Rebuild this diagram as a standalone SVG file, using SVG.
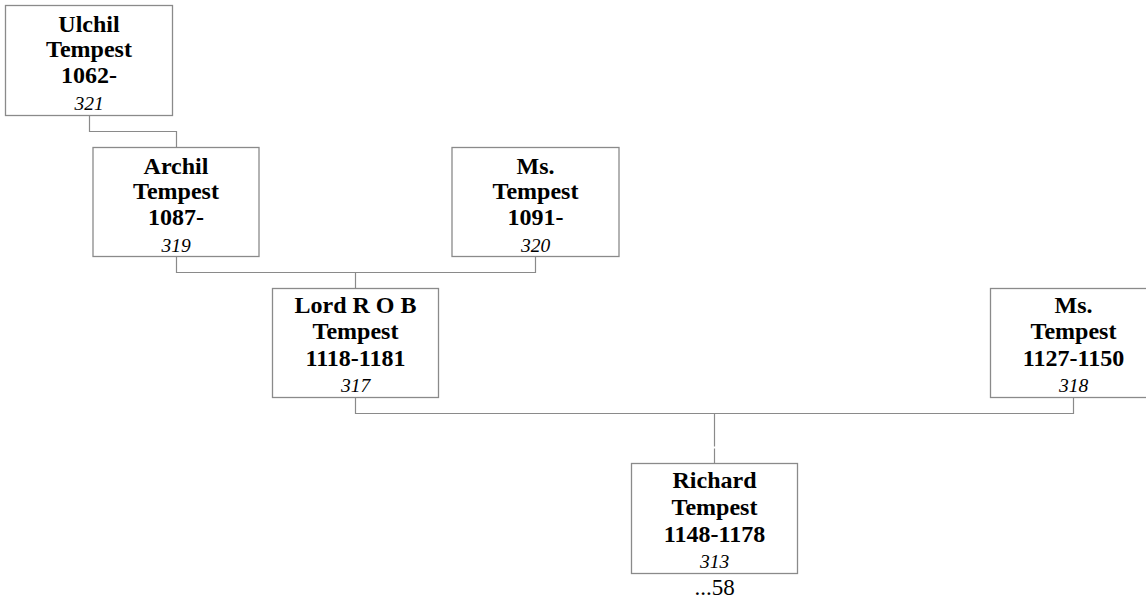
<svg xmlns="http://www.w3.org/2000/svg" width="1146" height="604" viewBox="0 0 1146 604">
<style>
.box{fill:#fff;stroke:#8a8a8a;stroke-width:1.3}
.ln{fill:none;stroke:#8a8a8a;stroke-width:1.2}
.n{font-family:"Liberation Serif","Times New Roman",serif;font-weight:bold;font-size:24px;fill:#000;text-anchor:middle}
.id{font-family:"Liberation Serif","Times New Roman",serif;font-style:italic;font-size:19.5px;fill:#000;text-anchor:middle}
.ft{font-family:"Liberation Serif","Times New Roman",serif;font-size:23px;fill:#000;text-anchor:middle}
</style>
<rect width="1146" height="604" fill="#fff"/>
<g id="connectors">
<path class="ln" d="M89.5 115.5 V131.5 H176.5 V147.5"/>
<path class="ln" d="M176.5 256.5 V272.5 H535.5 V256.5"/>
<path class="ln" d="M355.5 272.5 V288.5"/>
<path class="ln" d="M355.5 397.5 V413.5 H1073.5 V397.5"/>
<path class="ln" d="M714.5 413.5 V446.5"/>
<path class="ln" d="M714.5 448.5 V463.5"/>
</g>
<g id="n321">
<rect class="box" x="5.5" y="5.5" width="167" height="110"/>
<text class="n" x="89" y="31.5">Ulchil</text>
<text class="n" x="89" y="57">Tempest</text>
<text class="n" x="89" y="83">1062-</text>
<text class="id" x="89" y="110">321</text>
</g>
<g id="n319">
<rect class="box" x="93" y="147.5" width="166" height="109"/>
<text class="n" x="176" y="173.5">Archil</text>
<text class="n" x="176" y="199">Tempest</text>
<text class="n" x="176" y="225">1087-</text>
<text class="id" x="176" y="252">319</text>
</g>
<g id="n320">
<rect class="box" x="452" y="147.5" width="167" height="109"/>
<text class="n" x="535.5" y="173.5">Ms.</text>
<text class="n" x="535.5" y="199">Tempest</text>
<text class="n" x="535.5" y="225">1091-</text>
<text class="id" x="535.5" y="252">320</text>
</g>
<g id="n317">
<rect class="box" x="272.5" y="288.5" width="166" height="109"/>
<text class="n" x="355.5" y="313">Lord R O B</text>
<text class="n" x="355.5" y="339">Tempest</text>
<text class="n" x="355.5" y="365.5">1118-1181</text>
<text class="id" x="355.5" y="392">317</text>
</g>
<g id="n318">
<rect class="box" x="990.5" y="288.5" width="167" height="109"/>
<text class="n" x="1073.5" y="313">Ms.</text>
<text class="n" x="1073.5" y="339">Tempest</text>
<text class="n" x="1073.5" y="365.5">1127-1150</text>
<text class="id" x="1073.5" y="392">318</text>
</g>
<g id="n313">
<rect class="box" x="631.5" y="463.5" width="166" height="110"/>
<text class="n" x="714.5" y="488">Richard</text>
<text class="n" x="714.5" y="514.5">Tempest</text>
<text class="n" x="714.5" y="541.5">1148-1178</text>
<text class="id" x="714.5" y="568">313</text>
<text class="ft" x="714.5" y="595">...58</text>
</g>
</svg>
